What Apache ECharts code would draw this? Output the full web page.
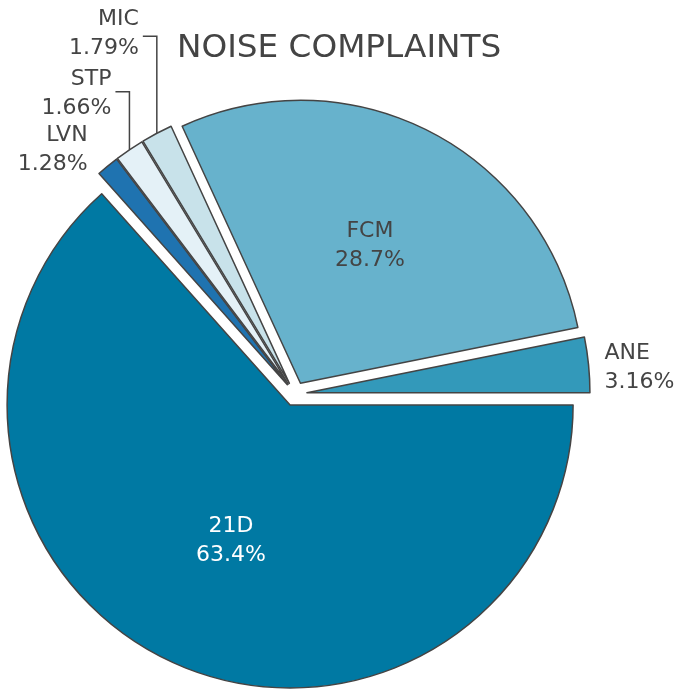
<!DOCTYPE html>
<html>
<head>
<meta charset="utf-8">
<script src="https://cdn.jsdelivr.net/npm/echarts@6/dist/echarts.min.js"></script>
<style>
  html, body { margin: 0; padding: 0; background: #fff; }
  #chart { width: 682px; height: 695px; }
</style>
</head>
<body>
<div id="chart"></div>
<script>
// slices in clockwise order starting at 3 o'clock
var categories = ['21D', 'LVN', 'STP', 'MIC', 'FCM', 'ANE']
var shares = [63.4, 1.28, 1.66, 1.79, 28.7, 3.16]
var colors = ['#0079a3', '#1f73b0', '#e4f1f7', '#c8e2ea', '#67b2cc', '#3399ba']

var textColor = '#444'
var font = 'DejaVu Sans'

// how each outside label sits relative to the slice edge point
var outside = {
  LVN: { dx: -20, dy: -16, line: false },
  STP: { rise: 58, run: 14, dy: 2, line: true },
  MIC: { rise: 97, run: 14, dy: -3, line: true },
  ANE: { dx: 16, dy: 3, line: false, left: true }
}
// small nudges for the labels drawn inside the big slices
var inside = {
  '21D': [0, 4],
  FCM: [4, -9]
}

var chart = echarts.init(document.getElementById('chart'))

var data = categories.map(function(name, i) {
  var item = {
    name: name,
    value: shares[i],
    selected: true,
    itemStyle: { color: colors[i] }
  }
  if (name === '21D') {
    item.label = { position: 'inside', color: '#fff' }
  } else if (name === 'FCM') {
    item.label = { position: 'inside', color: textColor }
  } else {
    item.label = { position: 'outside', color: textColor }
    item.labelLine = { show: outside[name].line, length: 10, length2: 10 }
  }
  return item
})

chart.setOption({
  animation: false,
  title: {
    text: 'NOISE COMPLAINTS',
    left: 172,
    top: 27,
    textStyle: { fontFamily: font, fontSize: 32.7, fontWeight: 'normal', color: textColor }
  },
  series: [{
    type: 'pie',
    center: [295, 394],
    radius: 283,
    startAngle: 0,
    clockwise: true,
    selectedMode: 'multiple',
    selectedOffset: 12,
    avoidLabelOverlap: false,
    emphasis: { disabled: true },
    itemStyle: { borderColor: '#444', borderWidth: 1.5 },
    label: {
      formatter: '{b}\n{c}%',
      fontFamily: font,
      fontSize: 22,
      lineHeight: 29,
      align: 'center'
    },
    labelLine: {
      lineStyle: { color: '#444', width: 1.5 }
    },
    labelLayout: function(params) {
      var name = categories[params.dataIndex]
      if (inside[name]) {
        return { dx: inside[name][0], dy: inside[name][1] }
      }
      var cfg = outside[name]
      if (!cfg || !params.labelLinePoints) return {}
      var p0 = params.labelLinePoints[0]
      var r = params.labelRect
      var cx = r.x + r.width / 2
      var cy = r.y + r.height / 2
      var tx, ty
      var out = {}
      if (cfg.line) {
        var y = p0[1] - cfg.rise
        var xe = p0[0] - cfg.run
        tx = xe - 4 - r.width / 2
        ty = y + cfg.dy
        out.labelLinePoints = [p0, [p0[0], y], [xe, y]]
      } else {
        tx = cfg.left ? p0[0] + cfg.dx + r.width / 2 : p0[0] + cfg.dx - r.width / 2
        ty = p0[1] + cfg.dy
      }
      out.dx = tx - cx
      out.dy = ty - cy
      return out
    },
    data: data
  }]
})
</script>
</body>
</html>
